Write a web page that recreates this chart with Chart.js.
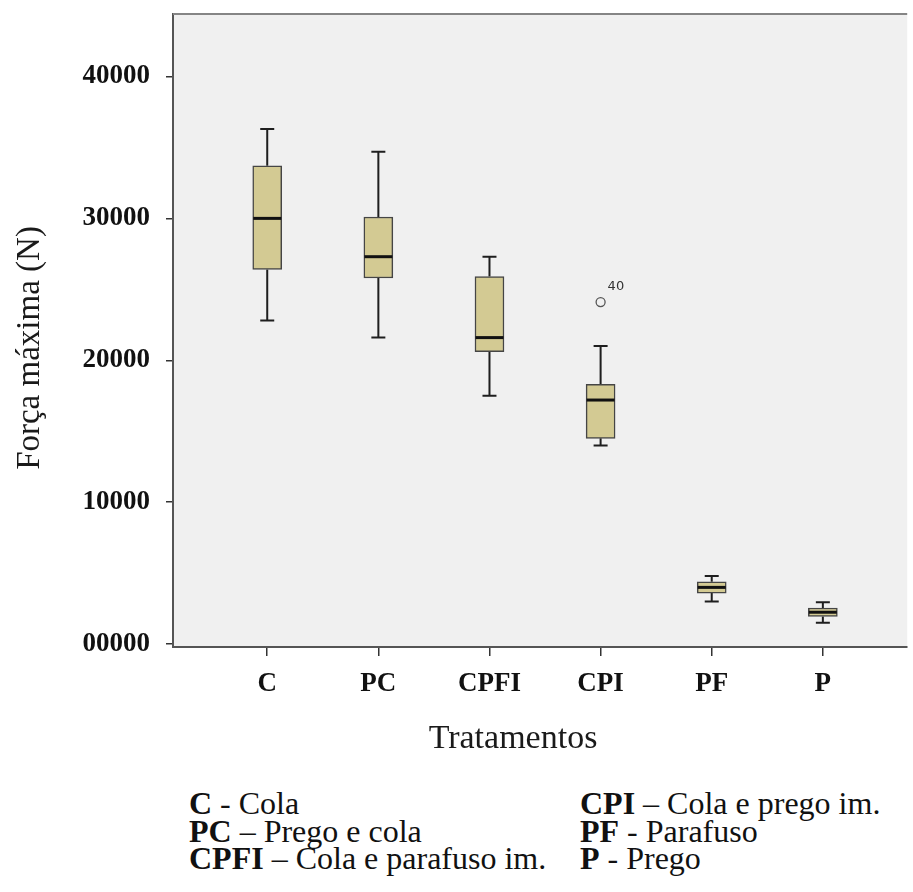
<!DOCTYPE html>
<html>
<head>
<meta charset="utf-8">
<script src="https://cdn.jsdelivr.net/npm/chart.js@4.4.1/dist/chart.umd.min.js"></script>
<style>
html,body{margin:0;padding:0;background:#fff;width:913px;height:892px;overflow:hidden;}
#wrap{position:absolute;left:0;top:0;width:913px;height:770px;}
.leg{position:absolute;white-space:nowrap;font-family:'Liberation Serif','Times New Roman',serif;font-size:32px;line-height:28px;color:#111;}
.leg b{font-weight:bold;}
</style>
</head>
<body>
<div id="wrap"><canvas id="c" width="913" height="770"></canvas></div>
<div id="legend"></div>
<script>
// ---- data ----
const categories = ['C', 'PC', 'CPFI', 'CPI', 'PF', 'P'];
const whiskerLow  = [22800, 21600, 17500, 14000, 3000, 1500];
const q1          = [26400, 25800, 20600, 14500, 3600, 1950];
const median      = [30000, 27300, 21600, 17200, 4000, 2250];
const q3          = [33700, 30100, 25900, 18300, 4400, 2550];
const whiskerHigh = [36300, 34700, 27300, 21000, 4800, 2950];
const outlierCategory = ['CPI'];
const outlierValue = [24100];
const outlierLabel = ['40'];
const yTicks = [0, 10000, 20000, 30000, 40000];
const yTickLabels = ['00000', '10000', '20000', '30000', '40000'];
const yTitle = 'Força máxima (N)';
const xTitle = 'Tratamentos';
const legendCodes = ['C', 'PC', 'CPFI', 'CPI', 'PF', 'P'];
const legendSeps = [' - ', ' – ', ' – ', ' – ', ' - ', ' - '];
const legendNames = ['Cola', 'Prego e cola', 'Cola e parafuso im.', 'Cola e prego im.', 'Parafuso', 'Prego'];

// ---- legend (HTML text) ----
(function(){
  const box = document.getElementById('legend');
  const cols = [189, 580];
  const rows = [789, 817, 844];
  legendCodes.forEach((c, i) => {
    const d = document.createElement('div');
    d.className = 'leg';
    d.style.left = cols[Math.floor(i / 3)] + 'px';
    d.style.top = rows[i % 3] + 'px';
    const b = document.createElement('b');
    b.textContent = c;
    d.appendChild(b);
    d.appendChild(document.createTextNode(legendSeps[i] + legendNames[i]));
    box.appendChild(d);
  });
})();

const serif = "'Liberation Serif','Times New Roman',serif";

const boxPlugin = {
  id: 'boxParts',
  beforeDraw(chart) {
    const {ctx, chartArea: a} = chart;
    ctx.save();
    ctx.fillStyle = '#f0f0f0';
    ctx.fillRect(a.left, a.top, a.right - a.left, a.bottom - a.top);
    ctx.restore();
  },
  beforeDatasetsDraw(chart) {
    const {ctx, scales: {x, y}} = chart;
    ctx.save();
    ctx.strokeStyle = '#1e1e1e';
    ctx.lineWidth = 2;
    categories.forEach((c, i) => {
      const px = x.getPixelForValue(i + 1);
      const yl = y.getPixelForValue(whiskerLow[i]);
      const yq1 = y.getPixelForValue(q1[i]);
      const yq3 = y.getPixelForValue(q3[i]);
      const yh = y.getPixelForValue(whiskerHigh[i]);
      ctx.beginPath();
      ctx.moveTo(px, yq3); ctx.lineTo(px, yh);
      ctx.moveTo(px, yq1); ctx.lineTo(px, yl);
      ctx.moveTo(px - 7, yh); ctx.lineTo(px + 7, yh);
      ctx.moveTo(px - 7, yl); ctx.lineTo(px + 7, yl);
      ctx.stroke();
    });
    ctx.restore();
  },
  afterDatasetsDraw(chart) {
    const {ctx, scales: {x, y}} = chart;
    ctx.save();
    ctx.strokeStyle = '#111';
    ctx.lineWidth = 3;
    categories.forEach((c, i) => {
      const px = x.getPixelForValue(i + 1);
      const ym = y.getPixelForValue(median[i]);
      ctx.beginPath();
      ctx.moveTo(px - 14, ym); ctx.lineTo(px + 14, ym);
      ctx.stroke();
    });
    ctx.fillStyle = '#333';
    ctx.font = "13px 'DejaVu Sans', Arial, sans-serif";
    ctx.textAlign = 'left';
    ctx.textBaseline = 'middle';
    outlierCategory.forEach((c, k) => {
      const px = x.getPixelForValue(categories.indexOf(c) + 1);
      const py = y.getPixelForValue(outlierValue[k]);
      ctx.fillText(outlierLabel[k], px + 7, py - 15);
    });
    ctx.restore();
  },
  afterDraw(chart) {
    const {ctx, chartArea: a} = chart;
    ctx.save();
    ctx.strokeStyle = '#858585';
    ctx.lineWidth = 2;
    ctx.beginPath();
    ctx.moveTo(a.left, a.top); ctx.lineTo(a.right, a.top);
    ctx.stroke();
    ctx.fillStyle = '#1a1a1a';
    ctx.textAlign = 'center';
    ctx.textBaseline = 'middle';
    ctx.font = "33px " + serif;
    ctx.translate(30, 348);
    ctx.rotate(-Math.PI / 2);
    ctx.fillText(yTitle, 0, 0);
    ctx.setTransform(1, 0, 0, 1, 0, 0);
    ctx.font = "34px " + serif;
    ctx.fillText(xTitle, 513, 739);
    ctx.restore();
  }
};

new Chart(document.getElementById('c'), {
  type: 'bar',
  data: {
    datasets: [
      {
        type: 'bar',
        data: categories.map((c, i) => ({x: i + 1, y: [q1[i], q3[i]]})),
        backgroundColor: '#d3ca93',
        borderColor: '#454545',
        borderWidth: 1.5,
        borderSkipped: false,
        barThickness: 29
      },
      {
        type: 'scatter',
        data: outlierCategory.map((c, k) => ({x: categories.indexOf(c) + 1, y: outlierValue[k]})),
        pointRadius: 4.5,
        pointBorderWidth: 1.3,
        pointBorderColor: '#555',
        pointBackgroundColor: 'rgba(0,0,0,0)'
      }
    ]
  },
  options: {
    responsive: false,
    animation: false,
    layout: {padding: {top: 14, right: 0, left: 0, bottom: 0}},
    plugins: {legend: {display: false}, tooltip: {enabled: false}},
    scales: {
      x: {
        type: 'linear',
        min: 0.152,
        max: 6.759,
        offset: false,
        afterBuildTicks: s => { s.ticks = categories.map((c, i) => ({value: i + 1})); },
        afterFit: s => { s.height = 123; s.paddingLeft = 0; s.paddingRight = 0; },
        ticks: {
          callback: (v, i) => categories[i],
          autoSkip: false,
          maxRotation: 0,
          padding: 12,
          color: '#111',
          font: {family: serif, weight: 'bold', size: 27}
        },
        grid: {offset: false, drawOnChartArea: false, drawTicks: true, tickLength: 9, color: '#333', lineWidth: 1.5},
        border: {display: true, color: '#555', width: 2}
      },
      y: {
        type: 'linear',
        min: -200,
        max: 44400,
        afterBuildTicks: s => { s.ticks = yTicks.map(v => ({value: v})); },
        afterFit: s => { s.width = 173; s.paddingTop = 0; s.paddingBottom = 0; },
        ticks: {
          callback: (v, i) => yTickLabels[i],
          padding: 16,
          color: '#111',
          font: {family: serif, weight: 'bold', size: 27}
        },
        grid: {drawOnChartArea: false, drawTicks: true, tickLength: 7, color: '#333', lineWidth: 1.5},
        border: {display: true, color: '#555', width: 2}
      }
    }
  },
  plugins: [boxPlugin]
});
</script>
</body>
</html>
